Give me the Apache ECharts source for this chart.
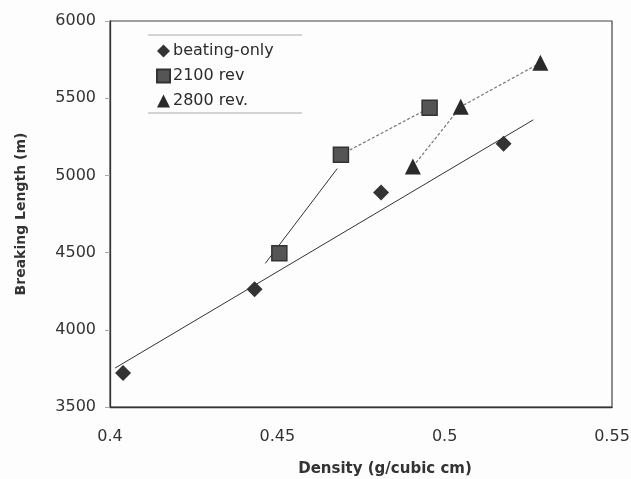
<!DOCTYPE html>
<html>
<head>
<meta charset="utf-8">
<script src="https://cdn.jsdelivr.net/npm/echarts@6/dist/echarts.min.js"></script>
<style>
  html, body { margin: 0; padding: 0; background: #fff; }
  #chart { width: 631px; height: 479px; }
</style>
</head>
<body>
<div id="chart"></div>
<script>
// values
const seriesNames = ["beating-only", "2100 rev", "2800 rev."];
const beatingOnly = [[0.4039, 3720], [0.4432, 4262], [0.481, 4889], [0.5176, 5205]];
const rev2100 = [[0.4506, 4495], [0.469, 5134], [0.4955, 5438]];
const rev2800 = [[0.4905, 5057], [0.5048, 5445], [0.5286, 5729]];
// solid trend lines drawn in the original
const beatingTrend = [[0.4015, 3752], [0.5265, 5360]];
const rev2100Trend = [[0.4464, 4430], [0.4679, 5044]];
const xTickLabels = ["0.4", "0.45", "0.5", "0.55"];
const yTickLabels = ["3500", "4000", "4500", "5000", "5500", "6000"];

const chart = echarts.init(document.getElementById("chart"), null, { renderer: "canvas" });

const font = "DejaVu Sans, Arial, sans-serif";
const ink = "#2b2b2b";

const option = {
  backgroundColor: "#fdfdfd",
  animation: false,
  textStyle: { fontFamily: font },
  grid: {
    left: 110,
    right: 19,
    top: 21,
    bottom: 72,
    outerBoundsMode: "none",
    containLabel: false,
    show: true,
    borderColor: "#444",
    borderWidth: 1.2,
  },
  xAxis: {
    type: "value",
    min: 0.4,
    max: 0.55,
    interval: 0.05,
    name: "Density (g/cubic cm)",
    nameLocation: "middle",
    nameGap: 55,
    nameTextStyle: {
      fontFamily: font,
      fontSize: 15,
      fontWeight: "bold",
      color: "#333",
      padding: [0, 0, 0, 48],
    },
    axisLine: { lineStyle: { color: "#333", width: 1.3 } },
    axisTick: { show: false },
    splitLine: { show: false },
    axisLabel: {
      margin: 22,
      fontSize: 16,
      color: "#333",
      fontFamily: font,
      formatter: (v) => xTickLabels[Math.round((v - 0.4) / 0.05)],
    },
  },
  yAxis: {
    type: "value",
    min: 3500,
    max: 6000,
    interval: 500,
    name: "Breaking Length (m)",
    nameLocation: "middle",
    nameGap: 82,
    nameTextStyle: {
      fontFamily: font,
      fontSize: 14,
      fontWeight: "bold",
      color: "#333",
    },
    axisLine: { lineStyle: { color: "#333", width: 1.3 } },
    axisTick: { show: true, length: 5, lineStyle: { color: "#aaa" } },
    splitLine: { show: false },
    axisLabel: {
      margin: 14,
      fontSize: 16,
      color: "#333",
      fontFamily: font,
      formatter: (v) => yTickLabels[Math.round((v - 3500) / 500)],
    },
  },
  legend: {
    orient: "vertical",
    left: 156,
    top: 43,
    padding: 0,
    itemGap: 9,
    itemWidth: 13,
    itemHeight: 13,
    data: seriesNames,
    textStyle: { fontFamily: font, fontSize: 16, color: ink, padding: [0, 0, 0, -2] },
  },
  graphic: [
    { type: "line", shape: { x1: 148, y1: 35, x2: 302, y2: 35 }, style: { stroke: "#aaa", lineWidth: 1 } },
    { type: "line", shape: { x1: 148, y1: 113, x2: 302, y2: 113 }, style: { stroke: "#aaa", lineWidth: 1 } },
  ],
  series: [
    {
      name: "trend-beating",
      type: "line",
      data: beatingTrend,
      showSymbol: false,
      lineStyle: { color: "#333", width: 1 },
      silent: true,
      z: 1,
    },
    {
      name: "trend-2100",
      type: "line",
      data: rev2100Trend,
      showSymbol: false,
      lineStyle: { color: "#333", width: 1 },
      silent: true,
      z: 1,
    },
    {
      name: "link-2100",
      type: "line",
      data: rev2100.slice(1),
      showSymbol: false,
      lineStyle: { color: "#777", width: 1.2, type: [3, 2] },
      silent: true,
      z: 1,
    },
    {
      name: "link-2800",
      type: "line",
      data: rev2800,
      showSymbol: false,
      lineStyle: { color: "#777", width: 1.2, type: [3, 2] },
      silent: true,
      z: 1,
    },
    {
      name: seriesNames[0],
      type: "scatter",
      symbol: "diamond",
      symbolSize: 16,
      data: beatingOnly,
      itemStyle: { color: "#333", opacity: 1 },
      z: 3,
    },
    {
      name: seriesNames[1],
      type: "scatter",
      symbol: "rect",
      symbolSize: 15,
      data: rev2100,
      itemStyle: { color: "#555", borderColor: "#333", borderWidth: 1.5, opacity: 1 },
      z: 3,
    },
    {
      name: seriesNames[2],
      type: "scatter",
      symbol: "triangle",
      symbolSize: 16,
      data: rev2800,
      itemStyle: { color: "#2a2a2a", opacity: 1 },
      z: 3,
    },
  ],
};

chart.setOption(option);
</script>
</body>
</html>
